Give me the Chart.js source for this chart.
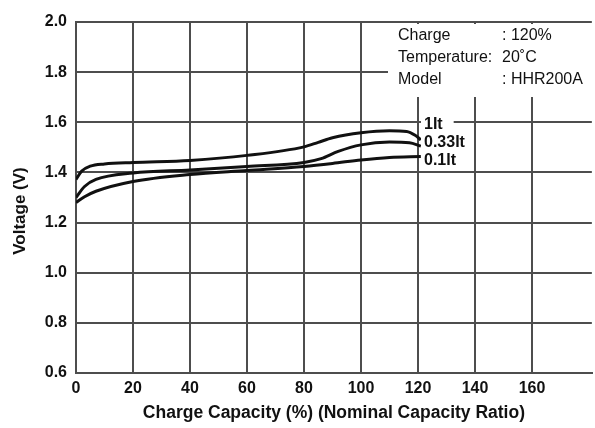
<!DOCTYPE html>
<html>
<head>
<meta charset="utf-8">
<script src="https://cdn.jsdelivr.net/npm/chart.js@4/dist/chart.umd.min.js"></script>
<style>
  html, body { margin: 0; padding: 0; background: #fff; }
  #wrap { width: 595px; height: 428px; }
</style>
</head>
<body>
<div id="wrap"><canvas id="chargeChart" width="595" height="428"></canvas></div>
<script>
// charge capacity (%) -> voltage (V)
const capacity1It = [0, 2, 5, 10, 20, 40, 60, 80, 85, 90, 100, 110, 116, 119, 121];
const voltage1It = [1.372, 1.405, 1.425, 1.434, 1.44, 1.448, 1.468, 1.502, 1.52, 1.538, 1.558, 1.566, 1.563, 1.548, 1.53];

const capacity033It = [0, 3, 7, 20, 40, 60, 80, 86, 92, 100, 110, 117, 121];
const voltage033It = [1.30, 1.344, 1.372, 1.398, 1.41, 1.424, 1.44, 1.455, 1.484, 1.51, 1.521, 1.518, 1.505];

const capacity01It = [0, 3, 7, 20, 40, 60, 80, 90, 100, 110, 121];
const voltage01It = [1.28, 1.303, 1.325, 1.364, 1.392, 1.408, 1.424, 1.436, 1.45, 1.46, 1.464];

const seriesLabels = ['1It', '0.33It', '0.1It'];
const infoLines = [
    ['Charge', ': 120%'],
    ['Temperature:', '20\u02DAC'],
    ['Model', ': HHR200A']
];
const yTitle = 'Voltage (V)';

const FONT = '"Liberation Sans", Arial, sans-serif';

function toPoints(xs, ys) {
    return xs.map((x, i) => ({x: x, y: ys[i]}));
}

// text box top right, curve labels, y title
const notesPlugin = {
    id: 'notes',
    afterDatasetsDraw(chart) {
        const ctx = chart.ctx;
        const xs = chart.scales.x;
        const ys = chart.scales.y;
        ctx.save();

        ctx.fillStyle = '#fff';
        ctx.fillRect(388, ys.getPixelForValue(2.0) + 2, 210, 73);

        ctx.font = '16px ' + FONT;
        ctx.fillStyle = '#111';
        ctx.textBaseline = 'middle';
        infoLines.forEach((line, i) => {
            const y = 36 + i * 22;
            ctx.fillText(line[0], 398, y);
            ctx.fillText(line[1], 502, y);
        });

        ctx.font = 'bold 16px ' + FONT;
        const lx = xs.getPixelForValue(120) + 6;
        const labelY = [125, 143, 161];
        seriesLabels.forEach((txt, i) => {
            const w = ctx.measureText(txt).width;
            ctx.fillStyle = '#fff';
            ctx.fillRect(lx - 3, labelY[i] - 9, w + (i === 0 ? 14 : 5), 18);
            ctx.fillStyle = '#111';
            ctx.fillText(txt, lx, labelY[i]);
        });

        ctx.translate(20, 211);
        ctx.rotate(-Math.PI / 2);
        ctx.textAlign = 'center';
        ctx.font = 'bold 17px ' + FONT;
        ctx.fillText(yTitle, 0, 0);
        ctx.restore();
    }
};

const lineStyle = {
    borderColor: '#111',
    borderWidth: 3,
    pointRadius: 0,
    fill: false,
    cubicInterpolationMode: 'monotone'
};

new Chart(document.getElementById('chargeChart'), {
    type: 'line',
    data: {
        datasets: [
            Object.assign({label: seriesLabels[0], data: toPoints(capacity1It, voltage1It)}, lineStyle),
            Object.assign({label: seriesLabels[1], data: toPoints(capacity033It, voltage033It)}, lineStyle),
            Object.assign({label: seriesLabels[2], data: toPoints(capacity01It, voltage01It)}, lineStyle)
        ]
    },
    options: {
        responsive: false,
        animation: false,
        layout: { padding: { left: 0, top: 22, right: 0, bottom: 0 } },
        plugins: {
            legend: { display: false },
            tooltip: { enabled: false }
        },
        scales: {
            x: {
                type: 'linear',
                min: 0,
                max: 181,
                afterFit(scale) { scale.height = 55; },
                afterBuildTicks(scale) {
                    scale.ticks = [0, 20, 40, 60, 80, 100, 120, 140, 160, 180].map(v => ({value: v}));
                },
                ticks: {
                    padding: 6,
                    maxRotation: 0,
                    autoSkip: false,
                    color: '#111',
                    font: { family: FONT, size: 16, weight: 'bold' },
                    callback: v => (v === 180 ? '' : v)
                },
                grid: {
                    drawTicks: false,
                    lineWidth: 2,
                    color: c => (c.tick && c.tick.value === 180 ? 'rgba(0,0,0,0)' : '#4d4d4d')
                },
                border: { color: '#4d4d4d', width: 2 },
                title: {
                    display: true,
                    text: 'Charge Capacity (%) (Nominal Capacity Ratio)',
                    color: '#111',
                    font: { family: FONT, size: 17.5, weight: 'bold' },
                    padding: { top: 2, bottom: 4 }
                }
            },
            y: {
                min: 0.6,
                max: 2.0,
                afterFit(scale) { scale.width = 76; },
                ticks: {
                    stepSize: 0.2,
                    padding: 9,
                    color: '#111',
                    font: { family: FONT, size: 16, weight: 'bold' },
                    callback: v => v.toFixed(1)
                },
                grid: { drawTicks: false, lineWidth: 2, color: '#4d4d4d' },
                border: { color: '#4d4d4d', width: 2 }
            }
        }
    },
    plugins: [notesPlugin]
});
</script>
</body>
</html>
